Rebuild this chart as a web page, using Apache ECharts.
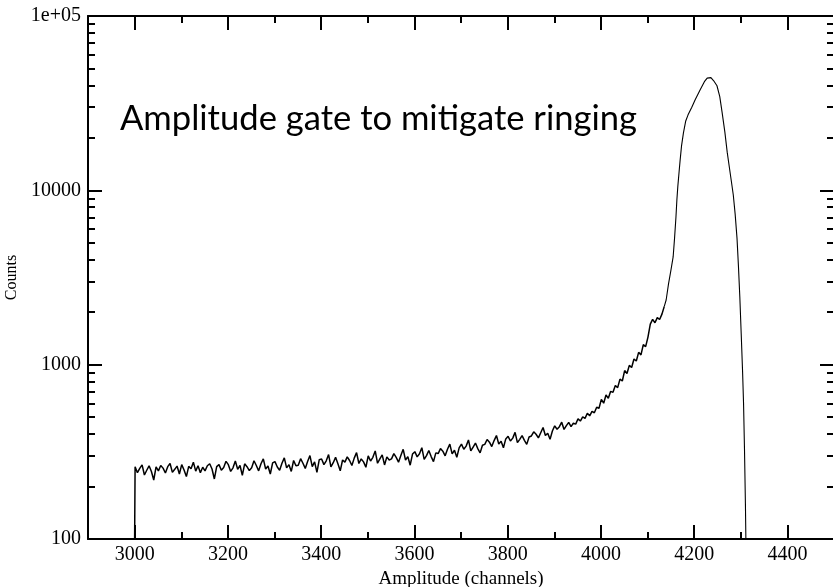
<!DOCTYPE html>
<html><head><meta charset="utf-8">
<script src="https://cdn.jsdelivr.net/npm/echarts@6/dist/echarts.min.js"></script>
<style>html,body{margin:0;padding:0;background:#fff}#c{width:833px;height:587px}</style>
</head><body><div id="c"></div>
<script>
// ---- axis ranges and ticks ----
const xMin = 2900, xMax = 4500;
const yMin = 100, yMax = 100000;
const xTickValues = [3000, 3200, 3400, 3600, 3800, 4000, 4200, 4400];
const xMinorTickValues = [3100, 3300, 3500, 3700, 3900, 4100, 4300];
const yTickValues = [100, 1000, 10000, 100000];
const yTickLabels = ['100', '1000', '10000', '1e+05'];
const yMinorTickValues = [200,300,400,500,600,700,800,900,2000,3000,4000,5000,6000,7000,8000,9000,20000,30000,40000,50000,60000,70000,80000,90000];

// ---- data ----
const edgeChannels = [3000];
const edgeCounts = [100];
const noisyStart = 3001, noisyStep = 5;
const noisyCounts = [
  260,240,254,266,233,248,263,244,218,259,
  246,264,255,239,260,271,241,251,262,236,
  267,249,228,261,253,276,245,263,240,258,
  246,263,270,252,221,260,267,248,257,279,
  267,244,256,280,251,264,232,270,260,247,
  256,281,264,246,270,288,252,262,236,273,
  278,259,248,272,292,256,267,244,282,263,
  265,289,272,254,278,301,260,277,241,285,
  288,267,281,305,259,274,294,270,246,284,
  276,296,282,264,291,313,271,288,277,258,
  300,280,294,320,272,288,304,266,296,284,
  288,309,294,276,301,327,284,297,265,307,
  317,296,308,334,286,301,322,297,278,312,
  309,330,319,300,327,350,308,323,294,333,
  350,327,341,370,320,337,355,330,312,345,
  349,372,359,339,367,392,351,364,334,375,
  388,365,379,409,357,373,392,368,349,385,
  390,412,399,380,407,436,392,404,373,416,
  446,426,441,468,425,447,466,441,462,456,
  490,475,502,492,526,509,540,530,570,562,
  632,601,670,641,703,694,759,738,826,806,
  925,890,991,963,1078,1049,1177,1138,1302,1268,
  1440,1710,1820,1740,1860,1815,1950,2160
];
const peakChannels = [4140,4145,4150,4155,4158,4161,4163,4165,4168,4170,4173,4177,4182,4187,4195,4202,4213,4222,4228,4232,4236,4242,4249,4255,4260,4266,4271,4276,4280,4284,4288,4292,4295,4298,4301,4304,4306,4308,4310,4311];
const peakCounts   = [2350,2900,3450,4150,5300,7000,8800,10500,13000,14900,18000,21300,25000,27100,30000,33000,37700,42000,44000,44800,44300,42500,39800,34500,28000,21500,16500,13300,11200,9400,7300,5300,3700,2450,1500,900,600,330,160,100];

const titleText = 'Amplitude gate to mitigate ringing';

// ---- build series data ----
const noisyData = [];
edgeChannels.forEach((c, i) => noisyData.push([c, edgeCounts[i]]));
noisyCounts.forEach((v, i) => noisyData.push([noisyStart + i * noisyStep, v]));
const peakData = [noisyData[noisyData.length - 1]];
peakChannels.forEach((c, i) => peakData.push([c, peakCounts[i]]));

const serif = 'Liberation Serif';
const black = '#000';

function xAxisDef(pos, major) {
  return {
    type: 'value', position: pos, min: xMin, max: xMax,
    splitLine: { show: false },
    axisLine: { show: major, lineStyle: { color: black, width: 2 } },
    axisTick: { show: true, inside: true, length: major ? 14 : 7,
      customValues: major ? xTickValues : xMinorTickValues,
      lineStyle: { color: black, width: 2 } },
    axisLabel: { show: major && pos === 'bottom', customValues: xTickValues,
      fontFamily: serif, fontSize: 20, color: black, margin: 6,
      formatter: v => String(v) },
    name: (major && pos === 'bottom') ? 'Amplitude (channels)' : '',
    nameLocation: 'middle', nameGap: 30,
    nameTextStyle: { fontFamily: serif, fontSize: 19, color: black }
  };
}
function yAxisDef(pos, major) {
  return {
    type: 'log', logBase: 10, position: pos, min: yMin, max: yMax,
    splitLine: { show: false },
    axisLine: { show: major, lineStyle: { color: black, width: 2 } },
    axisTick: { show: true, inside: true, length: major ? 14 : 7,
      customValues: major ? yTickValues : yMinorTickValues,
      lineStyle: { color: black, width: 2 } },
    axisLabel: { show: major && pos === 'left', customValues: yTickValues,
      fontFamily: serif, fontSize: 20, color: black, margin: 7,
      formatter: v => { const k = yTickValues.indexOf(Math.round(v)); return k >= 0 ? yTickLabels[k] : ''; } },
    name: (major && pos === 'left') ? 'Counts' : '',
    nameLocation: 'middle', nameGap: 66,
    nameTextStyle: { fontFamily: serif, fontSize: 16, color: black }
  };
}

const chart = echarts.init(document.getElementById('c'), null, { renderer: 'canvas' });
chart.setOption({
  animation: false,
  backgroundColor: '#fff',
  grid: { left: 88, top: 16, right: -1, bottom: 48, containLabel: false, outerBoundsMode: 'none' },
  xAxis: [xAxisDef('bottom', true), xAxisDef('bottom', false), xAxisDef('top', true), xAxisDef('top', false)],
  yAxis: [yAxisDef('left', true), yAxisDef('left', false), yAxisDef('right', true), yAxisDef('right', false)],
  graphic: [{
    type: 'text', left: 120, top: 101,
    style: { text: titleText, fontFamily: 'Lato', fontSize: 34.6, fill: black }
  }],
  series: [{
    type: 'line', xAxisIndex: 0, yAxisIndex: 0, data: noisyData,
    showSymbol: false, symbol: 'none', clip: true,
    lineStyle: { color: black, width: 1.5 }
  }, {
    type: 'line', xAxisIndex: 0, yAxisIndex: 0, data: peakData,
    showSymbol: false, symbol: 'none', clip: true,
    lineStyle: { color: black, width: 1.1 }
  }]
});
</script></body></html>
